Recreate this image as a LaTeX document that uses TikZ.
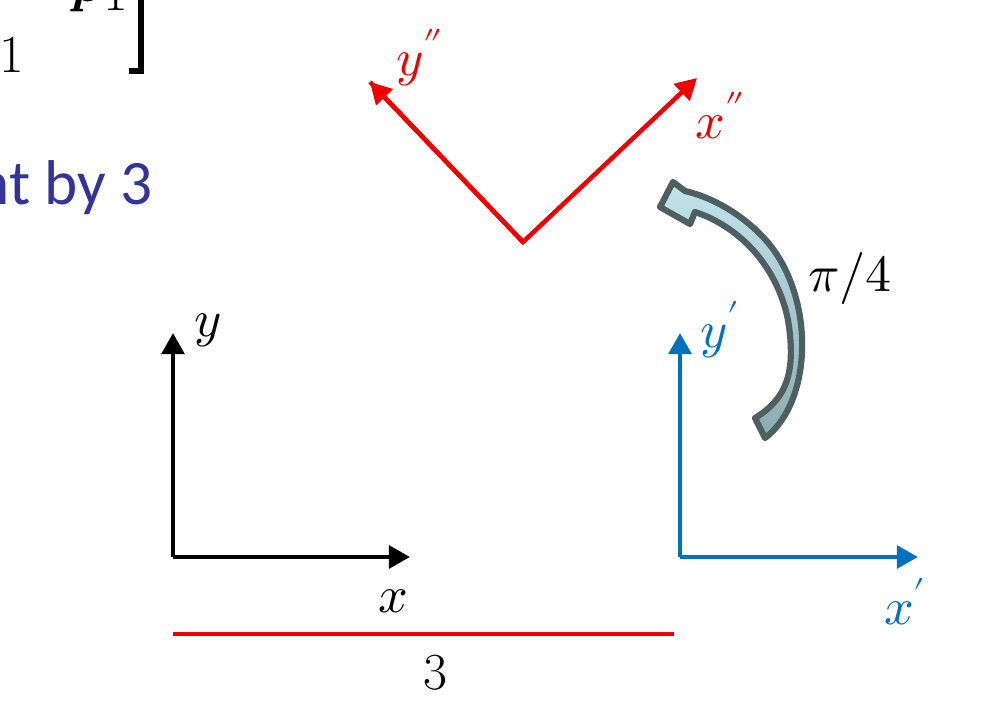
\documentclass[tikz,border=0pt]{standalone}
\usepackage{fontspec}
\usepackage{unicode-math}
\newfontfamily\slidefont{Carlito}
\usetikzlibrary{arrows.meta}
\definecolor{axisblue}{RGB}{0,112,192}
\definecolor{framered}{RGB}{240,0,0}
\definecolor{textnavy}{RGB}{51,51,153}
\definecolor{turnedge}{RGB}{78,95,98}
\definecolor{turntop}{RGB}{192,228,234}
\definecolor{turnbot}{RGB}{140,172,178}
\begin{document}
\begin{tikzpicture}[x=0.025cm, y=-0.025cm,
  axis/.style={line width=3.2pt, -{Triangle[length=15pt,width=16pt]}},
  lbl/.style={font=\fontsize{37}{42}\selectfont, inner sep=0pt}]
\useasboundingbox (0,0) rectangle (1005,725);
\clip (0,0) rectangle (1005,725);
% cropped slide text, top left
\node [lbl, font=\fontsize{38}{42}\selectfont, anchor=base] (one) at (12,72) {1};
\node [lbl, font=\fontsize{38}{42}\selectfont, anchor=base] (pvec) at (88,1) {$\mathbfit{p}$};
\node [lbl, font=\fontsize{38}{42}\selectfont, anchor=base] (onetop) at (116,10) {1};
\draw [line width=3.8pt] (141,-5) -- (141,71) -- (129,71);
\node [anchor=base east, inner sep=0pt, font=\slidefont\fontsize{45}{50}\selectfont, textnavy] (shift) at (153,204) {nt by 3};
% frame x y
\coordinate (o) at (173,557);
\coordinate (ox) at (410,557);
\coordinate (oy) at (173,333);
\draw [axis] (o) -- (ox);
\draw [axis] (o) -- (oy);
\node [lbl] (lx) at (393,601) {$x$};
\node [lbl] (ly) at (208,330) {$y$};
% frame x' y'
\coordinate (p) at (680,557);
\coordinate (px) at (918,557);
\coordinate (py) at (680,333);
\draw [axis, axisblue] (p) -- (px);
\draw [axis, axisblue] (p) -- (py);
\node [lbl, axisblue] (lpx) at (905,602) {$x'$};
\node [lbl, axisblue] (lpy) at (720,330) {$y'$};
% frame x'' y''
\coordinate (q) at (523,242);
\coordinate (qx) at (697,78);
\coordinate (qy) at (370,82);
\draw [axis, framered, line join=miter] (qy) -- (q) -- (qx);
\draw [axis, framered] (q) -- (qy);
\node [lbl, framered] (lqx) at (720,116) {$x''$};
\node [lbl, framered] (lqy) at (420,58) {$y''$};
% shift of 3
\coordinate (s0) at (173,634);
\coordinate (s1) at (674,634);
\draw [line width=2.6pt, framered] (s0) -- (s1);
\node [lbl] (lshift) at (435,673) {3};
% turn by pi/4
\draw [line width=4.4pt, turnedge, line join=round, top color=turntop, bottom color=turnbot]
  (765,438) .. controls (815,400) and (815,290) .. (762,236)
  .. controls (737,210) and (707,196) .. (685,191) -- (673,182) -- (660,207) -- (690,224) -- (695,212)
  .. controls (738,226) and (777,265) .. (788,320)
  .. controls (796,370) and (788,398) .. (755,418) -- cycle;
\node [lbl] (lturn) at (850,278) {$\pi/4$};
\end{tikzpicture}
\end{document}
